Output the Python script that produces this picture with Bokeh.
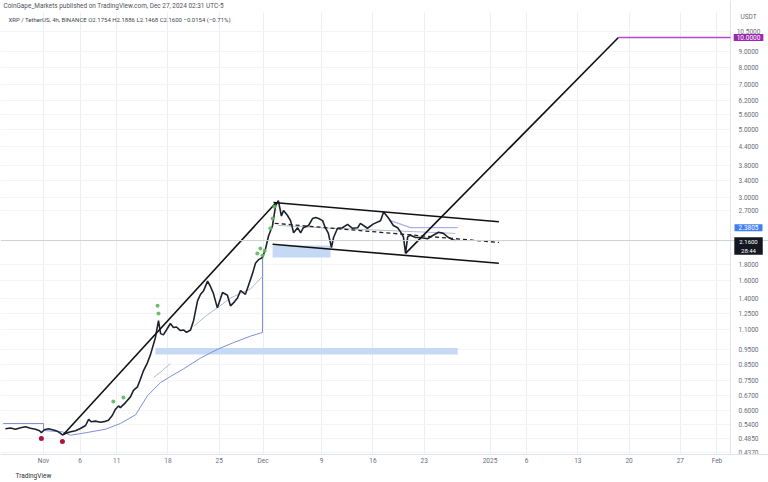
import numpy as np
import pandas as pd
from bokeh.plotting import figure
from bokeh.models import Range1d, FixedTicker, Label, Span, Title
from bokeh.embed import file_html
from bokeh.resources import INLINE

# ---------------- data ----------------
price_time = [
    "2024-10-26 19:00", "2024-10-27 12:00", "2024-10-28 04:00", "2024-10-28 21:00", "2024-10-29 13:00",
    "2024-10-30 05:00", "2024-10-30 22:00", "2024-10-31 11:00", "2024-10-31 17:00", "2024-11-01 03:00",
    "2024-11-01 16:00", "2024-11-02 09:00", "2024-11-02 22:00", "2024-11-03 08:00", "2024-11-03 14:00",
    "2024-11-04 03:00", "2024-11-04 17:00", "2024-11-05 09:00", "2024-11-06 01:00", "2024-11-06 18:00",
    "2024-11-07 04:00", "2024-11-07 13:00", "2024-11-08 02:00", "2024-11-08 19:00", "2024-11-09 11:00",
    "2024-11-09 21:00", "2024-11-10 10:00", "2024-11-10 20:00", "2024-11-11 06:00", "2024-11-11 12:00",
    "2024-11-12 05:00", "2024-11-12 21:00", "2024-11-13 07:00", "2024-11-13 20:00", "2024-11-14 06:00",
    "2024-11-14 16:00", "2024-11-15 05:00", "2024-11-15 15:00", "2024-11-16 07:00", "2024-11-16 17:00",
    "2024-11-17 00:00", "2024-11-17 09:00", "2024-11-17 19:00", "2024-11-18 08:00", "2024-11-18 18:00",
    "2024-11-19 04:00", "2024-11-19 17:00", "2024-11-20 03:00", "2024-11-20 13:00", "2024-11-21 02:00",
    "2024-11-21 12:00", "2024-11-22 01:00", "2024-11-22 11:00", "2024-11-22 21:00", "2024-11-23 10:00",
    "2024-11-23 19:00", "2024-11-24 05:00", "2024-11-24 18:00", "2024-11-25 11:00", "2024-11-26 03:00",
    "2024-11-26 13:00", "2024-11-27 02:00", "2024-11-27 12:00", "2024-11-27 22:00", "2024-11-28 14:00",
    "2024-11-29 00:00", "2024-11-29 13:00", "2024-11-29 23:00", "2024-11-30 09:00", "2024-11-30 22:00",
    "2024-12-01 08:00", "2024-12-01 18:00", "2024-12-02 07:00", "2024-12-02 17:00", "2024-12-03 02:00",
    "2024-12-03 12:00", "2024-12-03 19:00", "2024-12-04 08:00", "2024-12-04 18:00", "2024-12-05 04:00",
    "2024-12-05 17:00", "2024-12-06 03:00", "2024-12-06 12:00", "2024-12-07 05:00", "2024-12-07 18:00",
    "2024-12-08 04:00", "2024-12-08 14:00", "2024-12-09 03:00", "2024-12-09 12:00", "2024-12-09 22:00",
    "2024-12-10 08:00", "2024-12-10 15:00", "2024-12-11 04:00", "2024-12-11 20:00", "2024-12-12 13:00",
    "2024-12-13 05:00", "2024-12-13 22:00", "2024-12-14 07:00", "2024-12-15 06:00", "2024-12-16 02:00",
    "2024-12-17 01:00", "2024-12-17 11:00", "2024-12-18 03:00", "2024-12-18 19:00", "2024-12-19 09:00",
    "2024-12-19 18:00", "2024-12-20 04:00", "2024-12-20 11:00", "2024-12-20 18:00", "2024-12-21 03:00",
    "2024-12-21 20:00", "2024-12-22 12:00", "2024-12-23 11:00", "2024-12-24 03:00", "2024-12-24 23:00",
    "2024-12-25 15:00", "2024-12-26 08:00", "2024-12-27 00:00", "2024-12-27 07:00",
]
price_close = [
    0.522, 0.525, 0.520, 0.526, 0.530,
    0.524, 0.520, 0.514, 0.507, 0.518,
    0.522, 0.517, 0.512, 0.504, 0.498,
    0.505, 0.510, 0.514, 0.523, 0.535,
    0.560, 0.550, 0.553, 0.548, 0.552,
    0.557, 0.578, 0.605, 0.620, 0.612,
    0.636, 0.664, 0.697, 0.716, 0.760,
    0.810, 0.860, 0.915, 1.040, 1.180,
    1.070, 1.060, 1.100, 1.155, 1.120,
    1.125, 1.095, 1.100, 1.080, 1.100,
    1.180, 1.370, 1.440, 1.480, 1.590,
    1.530, 1.450, 1.300, 1.460, 1.430,
    1.320, 1.360, 1.400, 1.480, 1.440,
    1.540, 1.680, 1.820, 1.870, 1.900,
    2.030, 2.240, 2.420, 2.810, 2.920,
    2.600, 2.710, 2.610, 2.510, 2.290,
    2.380, 2.290, 2.380, 2.420, 2.550,
    2.570, 2.550, 2.510, 2.380, 2.280,
    2.050, 2.210, 2.370, 2.380, 2.440,
    2.370, 2.380, 2.460, 2.370, 2.450,
    2.510, 2.680, 2.560, 2.420, 2.380,
    2.310, 2.220, 1.960, 2.220, 2.250,
    2.210, 2.210, 2.190, 2.240, 2.300,
    2.280, 2.210, 2.170, 2.160,
]

# trailing indicator (blue) and moving lines (grey / lavender)
blue_time = ["2024-10-26 12:00", "2024-11-01 00:00", "2024-11-01 00:00", "2024-11-03 14:00", "2024-11-04 17:00",
             "2024-11-06 21:00", "2024-11-09 11:00", "2024-11-11 12:00", "2024-11-13 14:00", "2024-11-15 05:00",
             "2024-11-17 00:00", "2024-11-18 08:00", "2024-11-20 03:00", "2024-11-22 11:00", "2024-11-24 18:00",
             "2024-11-26 23:00", "2024-11-29 07:00", "2024-11-30 22:00", "2024-11-30 22:00"]
blue_val = [0.543, 0.543, 0.515, 0.510, 0.497,
            0.507, 0.520, 0.543, 0.580, 0.670,
            0.740, 0.774, 0.820, 0.890, 0.950,
            1.000, 1.050, 1.080, 1.890]

grey_time = ["2024-11-16 01:00", "2024-11-17 06:00", "2024-11-18 08:00", "2024-11-18 09:00",
             "2024-11-21 12:00", "2024-11-23 03:00", "2024-11-24 18:00", "2024-11-26 13:00", "2024-11-27 22:00",
             "2024-11-29 07:00", "2024-12-01 01:00", "2024-12-01 02:00",
             "2024-12-03 02:00", "2024-12-06 03:00", "2024-12-10 05:00", "2024-12-14 07:00", "2024-12-19 18:00",
             "2024-12-27 07:00"]
grey_val = [0.768, 0.810, 0.854, float("nan"),
            1.130, 1.220, 1.300, 1.400, 1.450,
            1.500, 1.660, float("nan"),
            2.420, 2.400, 2.370, 2.350, 2.320,
            2.280]

lav_time = ["2024-12-18 10:00", "2024-12-21 03:00", "2024-12-27 14:00"]
lav_val = [2.51, 2.3805, 2.3805]

# drawn lines
trend_up_time = ["2024-11-03 17:30", "2024-12-02 19:00"]
trend_up_val = [0.50, 2.88]
chan_top_time = ["2024-12-02 10:00", "2025-01-02 05:00"]
chan_top_val = [2.88, 2.49]
chan_bot_time = ["2024-12-02 07:00", "2025-01-02 05:00"]
chan_bot_val = [2.10, 1.82]
chan_mid_time = ["2024-12-02 14:00", "2025-01-02 05:00"]
chan_mid_val = [2.46, 2.13]
target_time = ["2024-12-20 11:00", "2025-01-18 13:00"]
target_val = [1.96, 10.0]
target_lvl_time = ["2025-01-18 13:00", "2025-02-02 20:24"]
target_lvl_val = [10.0, 10.0]

# zones
zone_left = ["2024-12-02 07:00", "2024-11-16 07:00"]
zone_right = ["2024-12-10 05:00", "2024-12-27 14:00"]
zone_bottom = [1.90, 0.914]
zone_top = [2.08, 0.960]

# signals
green_time = ["2024-11-10 13:00", "2024-11-11 22:00", "2024-11-16 14:00", "2024-11-16 17:00",
              "2024-11-30 05:00", "2024-11-30 15:00", "2024-11-30 22:00", "2024-12-01 05:00",
              "2024-12-02 00:00", "2024-12-02 07:00", "2024-12-02 13:00"]
green_val = [0.641, 0.661, 1.32, 1.245,
             1.96, 2.035, 1.93, 2.00,
             2.37, 2.55, 2.79]
red_time = ["2024-10-31 17:00", "2024-11-03 14:00"]
red_val = [0.485, 0.474]

last_price = 2.16
ind_price = 2.3805
target_price = 10.0

y_ticks = [0.437, 0.485, 0.54, 0.6, 0.67, 0.75, 0.85, 0.95, 1.1, 1.25, 1.4, 1.6, 1.8,
           2.7, 3.0, 3.4, 3.8, 4.4, 5.0, 5.6, 6.2, 7.0, 8.0, 9.0, 10.5]
x_tick_dates = ["2024-11-01", "2024-11-06", "2024-11-11", "2024-11-18", "2024-11-25", "2024-12-01",
                "2024-12-09", "2024-12-16", "2024-12-23", "2025-01-01", "2025-01-06", "2025-01-13",
                "2025-01-20", "2025-01-27", "2025-02-01"]
x_tick_labels = ["Nov", "6", "11", "18", "25", "Dec", "9", "16", "23", "2025", "6", "13", "20", "27", "Feb"]


# ---------------- plot ----------------
def ms(s):
    return pd.Timestamp(s).value / 1e6


def dt(lst):
    return pd.to_datetime(lst)


FONT = "Roboto"
TXT = "#6a6d78"
x_start, x_end = ms("2024-10-26 03:01"), ms("2025-02-08 01:00")
scale_edge = ms("2025-02-02 20:24")     # left edge of the price scale
scale_mid = ms("2025-02-05 07:30")      # centre of the price scale labels
y_lo, y_hi = 0.4298, 13.22
pane_top = 12.08

p = figure(width=768, height=482, x_axis_type="datetime", y_axis_type="log", y_axis_location=None,
           x_range=Range1d(x_start, x_end), y_range=Range1d(y_lo, y_hi),
           output_backend="svg", toolbar_location=None,
           min_border_left=0, min_border_right=0, min_border_top=0, min_border_bottom=28)
p.outline_line_color = None
p.background_fill_color = "white"
p.border_fill_color = "white"

xt = [ms(d) for d in x_tick_dates]
p.xaxis.ticker = FixedTicker(ticks=xt)
p.xgrid.ticker = FixedTicker(ticks=xt)
p.xaxis.major_label_overrides = {t: l for t, l in zip(xt, x_tick_labels)}
p.ygrid.ticker = FixedTicker(ticks=y_ticks)

ax = p.xaxis[0]
ax.major_tick_line_color = None
ax.minor_tick_line_color = None
ax.major_tick_out = 0
ax.major_tick_in = 0
ax.minor_tick_out = 0
ax.minor_tick_in = 0
ax.axis_line_color = "#e0e3eb"
ax.major_label_text_font = FONT
ax.major_label_text_font_size = "6.5px"
ax.major_label_text_color = TXT
ax.major_label_standoff = 2

p.xgrid.grid_line_color = "#eceef3"
p.ygrid.grid_line_color = "#f3f4f7"

# masks: strip above the pane and price scale area
p.quad(left=[x_start], right=[scale_edge], bottom=[pane_top], top=[y_hi], fill_color="white", line_color=None)
p.quad(left=[scale_edge], right=[x_end], bottom=[y_lo], top=[y_hi], fill_color="white", line_color=None)
p.segment(x0=[scale_edge], x1=[scale_edge], y0=[y_lo], y1=[y_hi], line_color="#e0e3eb", line_width=1)

# zones
p.quad(left=dt(zone_left), right=dt(zone_right), bottom=zone_bottom, top=zone_top,
       fill_color="#bfd5f4", fill_alpha=0.9, line_color=None)

# indicator lines
p.line(dt(blue_time), blue_val, line_color="#7d8fd8", line_width=1)
p.line(dt(grey_time), grey_val, line_color="#b4bac8", line_width=1)
p.line(dt(lav_time), lav_val, line_color="#a9aef0", line_width=1.2)

p.add_layout(Span(location=last_price, dimension="width", line_color="#cfd1d6", line_width=1))

# price
p.line(dt(price_time), price_close, line_color="#1e222d", line_width=1.6)

# drawings
for t, v in ((trend_up_time, trend_up_val), (chan_top_time, chan_top_val),
             (chan_bot_time, chan_bot_val), (target_time, target_val)):
    p.line(dt(t), v, line_color="#111111", line_width=1.6)
p.line(dt(chan_mid_time), chan_mid_val, line_color="#222222", line_width=1.3, line_dash="4 3")
p.line(dt(target_lvl_time), target_lvl_val, line_color="#b548d0", line_width=1.6)

# signals
p.scatter(dt(green_time), green_val, size=4, fill_color="#5cb85c", line_color=None, fill_alpha=0.9)
p.scatter(dt(red_time), red_val, size=5, fill_color="#b0123e", line_color=None)

# price scale labels
p.text(x=[scale_mid] * len(y_ticks), y=y_ticks, text=[f"{v:.4f}" for v in y_ticks],
       text_align="center", text_baseline="middle", text_font_size="6.5px", text_color=TXT,
       text_font={"value": FONT})
p.add_layout(Label(x=scale_mid, y=11.63, text="USDT", text_align="center", text_baseline="middle",
                   text_font=FONT, text_font_size="6.5px", text_color=TXT))
p.add_layout(Label(x=scale_mid, y=target_price, text=f"{target_price:.4f}", text_align="center",
                   text_baseline="middle", text_font=FONT, text_font_size="6.5px", text_color="white",
                   background_fill_color="#9c27b0", padding=dict(left=3, right=3, top=1, bottom=1)))
p.add_layout(Label(x=scale_mid, y=ind_price, text=f"{ind_price:.4f}", text_align="center",
                   text_baseline="middle", text_font=FONT, text_font_size="6.5px", text_color="white",
                   background_fill_color="#3f7ef5", padding=dict(left=4, right=4, top=1, bottom=1)))
p.add_layout(Label(x=scale_mid, y=2.215, text=f"{last_price:.4f}\n28:44",
                   text_align="center", text_baseline="top", text_font=FONT, text_font_size="6px",
                   text_color="white", background_fill_color="#131722",
                   padding=dict(left=5, right=5, top=1, bottom=1)))

# header texts
p.add_layout(Label(x=x_start, y=12.64, x_offset=3, text_baseline="middle",
                   text="CoinGape_Markets published on TradingView.com, Dec 27, 2024 02:31 UTC-5",
                   text_font=FONT, text_font_size="6.45px", text_color="#50535e"))
p.add_layout(Label(x=x_start, y=11.455, x_offset=8, text_baseline="middle",
                   text="XRP / TetherUS, 4h, BINANCE  O2.1754 H2.1886 L2.1468 C2.1600 \u22120.0154 (\u22120.71%)",
                   text_font=FONT, text_font_size="6px", text_color="#434651"))

# footer
p.add_layout(Title(text="TradingView", align="left", offset=15, standoff=4, text_font=FONT,
                   text_font_size="6.5px", text_font_style="normal", text_color="#2a2e39"), "below")

open("out.html", "w").write(file_html(p, INLINE))
